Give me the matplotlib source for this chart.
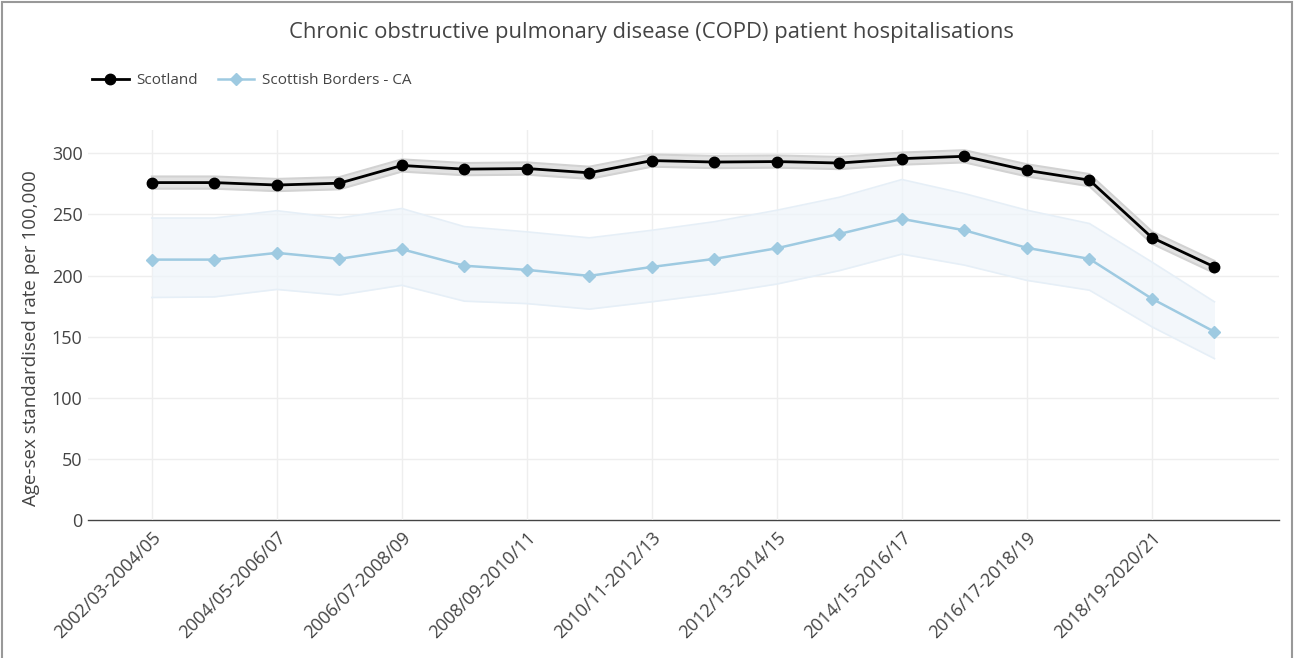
import matplotlib.pyplot as plt
from matplotlib.patches import Rectangle

plt.rcParams['font.family'] = ['Open Sans', 'DejaVu Sans']

periods = [
    "2002/03-2004/05", "2003/04-2005/06", "2004/05-2006/07", "2005/06-2007/08",
    "2006/07-2008/09", "2007/08-2009/10", "2008/09-2010/11", "2009/10-2011/12",
    "2010/11-2012/13", "2011/12-2013/14", "2012/13-2014/15", "2013/14-2015/16",
    "2014/15-2016/17", "2015/16-2017/18", "2016/17-2018/19", "2017/18-2019/20",
    "2018/19-2020/21", "2019/20-2021/22",
]

scotland = [276, 276, 274, 275.5, 290, 287, 287.5, 284, 294, 292.8,
            293.2, 292, 295.6, 297.5, 286, 278, 231, 207]
scotland_upper = [281, 281, 279, 280.5, 295, 292, 292.5, 289, 299, 297.8,
                  298.2, 297, 300.6, 302.5, 291, 283, 236, 212]
scotland_lower = [271, 271, 269, 270.5, 285, 282, 282.5, 279, 289, 287.8,
                  288.2, 287, 290.6, 292.5, 281, 273, 226, 202]

borders = [213, 213, 218.5, 213.6, 221.5, 208, 204.6, 199.7, 207, 213.6,
           222.3, 234, 246.3, 237, 222.6, 213.6, 181, 154]
borders_upper = [247, 247, 253, 247, 254.8, 240, 235.7, 230.8, 237, 244,
                 253.4, 264, 278.5, 267, 253.4, 242.5, 211, 178.5]
borders_lower = [182, 182.5, 188.6, 184, 192, 179, 177, 172.5, 178.5, 185,
                 193, 204, 217.5, 208.5, 196, 188, 158, 132]

yticks = [0, 50, 100, 150, 200, 250, 300]

x = list(range(len(periods)))

fig = plt.figure(figsize=(12.95, 6.58), dpi=100)
ax = fig.add_axes([0.068, 0.2097, 0.920, 0.5927])

# confidence ribbons
ax.fill_between(x, borders_lower, borders_upper, color='#eef4fa', alpha=0.7,
                linewidth=0, zorder=1)
ax.plot(x, borders_upper, color='#e6eff7', lw=1.2, zorder=1)
ax.plot(x, borders_lower, color='#e6eff7', lw=1.2, zorder=1)
ax.fill_between(x, scotland_lower, scotland_upper, color='#e2e2e2',
                linewidth=0, zorder=2)
ax.plot(x, scotland_upper, color='#d2d2d2', lw=1.5, zorder=2)
ax.plot(x, scotland_lower, color='#d2d2d2', lw=1.5, zorder=2)

l1, = ax.plot(x, scotland, color='black', lw=2, marker='o', markersize=7.5,
              label='Scotland', zorder=4)
l2, = ax.plot(x, borders, color='#9ecae1', lw=1.8, marker='D', markersize=6,
              label='Scottish Borders - CA', zorder=3)

ax.set_xlim(-1.02, 18.04)
ax.set_ylim(0, 319)
ax.set_yticks(yticks)
ax.set_xticks(x[::2])
ax.set_xticklabels(periods[::2], rotation=45, ha='right', rotation_mode='anchor')
ax.tick_params(axis='both', length=0, labelsize=13, labelcolor='#444444')
ax.tick_params(axis='x', pad=6)
ax.tick_params(axis='y', pad=4)
ax.grid(True, color='#eeeeee', lw=1)
ax.set_axisbelow(True)
for side in ['top', 'right', 'left']:
    ax.spines[side].set_visible(False)
ax.spines['bottom'].set_color('#444444')
ax.spines['bottom'].set_linewidth(1)
ax.spines['bottom'].set_zorder(0.5)

ax.set_ylabel('Age-sex standardised rate per 100,000', fontsize=13.5,
              color='#444444', labelpad=8)
ax.yaxis.set_label_coords(-0.040, 0.467)

fig.suptitle('Chronic obstructive pulmonary disease (COPD) patient hospitalisations',
             x=0.503, y=0.950, va='center', fontsize=15.8, color='#444444')

fig.legend(handles=[l1, l2], loc='center left', bbox_to_anchor=(0.071, 1 - 81 / 658),
           ncol=2, frameon=False, fontsize=11, handlelength=2.4,
           columnspacing=1.3, handletextpad=0.5, borderpad=0, borderaxespad=0,
           labelcolor='#444444')

# outer frame
fig.patches.append(Rectangle((0.0015, -0.01), 0.996, 1.007, transform=fig.transFigure,
                             fill=False, edgecolor='#999999', lw=1.5))

fig.savefig('out.png', dpi=100)
